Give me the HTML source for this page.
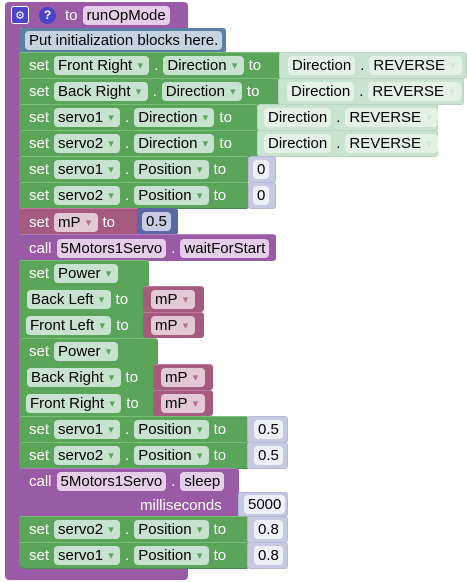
<!DOCTYPE html>
<html><head><meta charset="utf-8"><style>
body{margin:0;width:467px;height:582px;background:#fff;position:relative;overflow:hidden;font-family:"Liberation Sans",sans-serif;font-size:15px;color:#fff}
.b{position:absolute;box-sizing:border-box;display:flex;align-items:center;padding-left:10px;white-space:nowrap;border-radius:3px}
.g{background:#5ba55b;border-top:1px solid #7cbf7c;border-bottom:1px solid #4a8a4a}
.p{background:#995ba5;border-top:1px solid #b07bbb}
.r{background:#a55b80;border-top:1px solid #bf7b9c}
.bl{background:#5b67a5}
.sh{background:#c9e3d1;color:#000;border:1px solid #b8d6c2}
.nm{background:#c6c9e2;color:#000;border:1px solid #b4b8d6}
.f{display:inline-flex;align-items:center;height:19px;padding:0 4px;border-radius:4px;background:#c7e2cf;color:#000;margin-right:5px}
.p .f{background:#e6cde9}
.r .f{background:#e3c9d6}
.nm .f{background:#eef0f7}
.sh .f{background:#e3f1e7}
.a{font-size:11px;color:#5ba55b;margin-left:3px;width:10px;display:inline-flex;justify-content:center}
.r .a{color:#b46f92}
.sh .a{color:#cfe6d6}
.t{margin-right:5px}
</style></head><body>
<div style="position:absolute;left:5px;top:2px;width:183px;height:26px;background:#995ba5;border-radius:4px 4px 0 0"></div>
<div style="position:absolute;left:5px;top:27px;width:15px;height:545px;background:#995ba5"></div>
<div style="position:absolute;left:5px;top:566px;width:183px;height:14px;background:#995ba5;border-radius:0 0 4px 4px"></div>
<div class="b" style="left:5px;top:2px;height:26px;padding-left:6px">
<span style="display:inline-flex;width:16px;height:16px;background:#4b44c9;border:1px solid #fff;border-radius:3px;align-items:center;justify-content:center;font-size:11px;margin-right:10px">⚙</span>
<span style="display:inline-flex;width:17px;height:17px;background:#4b44c9;border-radius:50%;align-items:center;justify-content:center;font-size:12px;font-weight:bold;margin-right:9px">?</span>
<span class="t">to</span><span class="f" style="background:#e6cde9">runOpMode</span></div>
<div class="b" style="left:19px;top:28px;width:207px;height:25px;background:#5b80a5;padding-left:6px"><span class="f" style="background:#c6d4e2">Put initialization blocks here.</span></div>

<div class="b g" style="left:19px;top:52px;width:262px;height:27px"><span class="t">set</span><span class="f">Front Right<span class="a">▾</span></span><span class="t">.</span><span class="f">Direction<span class="a">▾</span></span><span>to</span></div>
<div class="b sh" style="left:279px;top:52px;width:188px;height:27px;padding-left:8px"><span class="f">Direction</span><span class="t">.</span><span class="f">REVERSE<span class="a">▾</span></span></div>
<div class="b g" style="left:19px;top:78px;width:262px;height:27px"><span class="t">set</span><span class="f">Back Right<span class="a">▾</span></span><span class="t">.</span><span class="f">Direction<span class="a">▾</span></span><span>to</span></div>
<div class="b sh" style="left:278px;top:78px;width:186px;height:27px;padding-left:8px"><span class="f">Direction</span><span class="t">.</span><span class="f">REVERSE<span class="a">▾</span></span></div>
<div class="b g" style="left:19px;top:104px;width:240px;height:27px"><span class="t">set</span><span class="f">servo1<span class="a">▾</span></span><span class="t">.</span><span class="f">Direction<span class="a">▾</span></span><span>to</span></div>
<div class="b sh" style="left:257px;top:104px;width:181px;height:27px;padding-left:6px"><span class="f">Direction</span><span class="t">.</span><span class="f">REVERSE<span class="a">▾</span></span></div>
<div class="b g" style="left:19px;top:130px;width:240px;height:27px"><span class="t">set</span><span class="f">servo2<span class="a">▾</span></span><span class="t">.</span><span class="f">Direction<span class="a">▾</span></span><span>to</span></div>
<div class="b sh" style="left:257px;top:130px;width:181px;height:27px;padding-left:6px"><span class="f">Direction</span><span class="t">.</span><span class="f">REVERSE<span class="a">▾</span></span></div>
<div class="b g" style="left:19px;top:156px;width:230px;height:27px"><span class="t">set</span><span class="f">servo1<span class="a">▾</span></span><span class="t">.</span><span class="f">Position<span class="a">▾</span></span><span>to</span></div>
<div class="b nm" style="left:248px;top:156px;width:28px;height:27px;padding-left:4px"><span class="f">0</span></div>
<div class="b g" style="left:19px;top:182px;width:230px;height:27px"><span class="t">set</span><span class="f">servo2<span class="a">▾</span></span><span class="t">.</span><span class="f">Position<span class="a">▾</span></span><span>to</span></div>
<div class="b nm" style="left:248px;top:182px;width:28px;height:27px;padding-left:4px"><span class="f">0</span></div>
<div class="b r" style="left:19px;top:208px;width:120px;height:27px"><span class="t">set</span><span class="f">mP<span class="a">▾</span></span><span>to</span></div>
<div class="b bl" style="left:137px;top:208px;width:41px;height:27px;padding-left:5px"><span class="f" style="background:#c8cce2">0.5</span></div>
<div class="b p" style="left:19px;top:234px;width:257px;height:27px"><span class="t">call</span><span class="f">5Motors1Servo</span><span class="t">.</span><span class="f">waitForStart</span></div>

<div class="b g" style="left:19px;top:260px;width:130px;height:79px;align-items:flex-start;flex-direction:column;padding-left:0">
<div style="height:26px;display:flex;align-items:center;padding-left:10px"><span class="t">set</span><span class="f">Power<span class="a">▾</span></span></div>
<div style="height:26px;display:flex;align-items:center;padding-left:8px"><span class="f">Back Left<span class="a">▾</span></span><span>to</span></div>
<div style="height:26px;display:flex;align-items:center;padding-left:7px"><span class="f">Front Left<span class="a">▾</span></span><span>to</span></div></div>
<div class="b r" style="left:143px;top:286px;width:61px;height:26px;padding-left:8px"><span class="f">mP<span class="a">▾</span></span></div>
<div class="b r" style="left:143px;top:312px;width:61px;height:26px;padding-left:8px"><span class="f">mP<span class="a">▾</span></span></div>

<div class="b g" style="left:19px;top:338px;width:139px;height:79px;align-items:flex-start;flex-direction:column;padding-left:0">
<div style="height:26px;display:flex;align-items:center;padding-left:10px"><span class="t">set</span><span class="f">Power<span class="a">▾</span></span></div>
<div style="height:26px;display:flex;align-items:center;padding-left:8px"><span class="f">Back Right<span class="a">▾</span></span><span>to</span></div>
<div style="height:26px;display:flex;align-items:center;padding-left:7px"><span class="f">Front Right<span class="a">▾</span></span><span>to</span></div></div>
<div class="b r" style="left:153px;top:364px;width:60px;height:26px;padding-left:8px"><span class="f">mP<span class="a">▾</span></span></div>
<div class="b r" style="left:153px;top:390px;width:60px;height:26px;padding-left:8px"><span class="f">mP<span class="a">▾</span></span></div>

<div class="b g" style="left:19px;top:416px;width:230px;height:27px"><span class="t">set</span><span class="f">servo1<span class="a">▾</span></span><span class="t">.</span><span class="f">Position<span class="a">▾</span></span><span>to</span></div>
<div class="b nm" style="left:247px;top:416px;width:41px;height:27px;padding-left:6px"><span class="f">0.5</span></div>
<div class="b g" style="left:19px;top:442px;width:230px;height:27px"><span class="t">set</span><span class="f">servo2<span class="a">▾</span></span><span class="t">.</span><span class="f">Position<span class="a">▾</span></span><span>to</span></div>
<div class="b nm" style="left:247px;top:442px;width:41px;height:27px;padding-left:6px"><span class="f">0.5</span></div>

<div class="b p" style="left:19px;top:468px;width:220px;height:49px;align-items:flex-start;flex-direction:column;padding-left:0">
<div style="height:24px;display:flex;align-items:center;padding-left:10px"><span class="t">call</span><span class="f">5Motors1Servo</span><span class="t">.</span><span class="f">sleep</span></div>
<div style="height:24px;display:flex;align-items:center;padding-left:121px">milliseconds</div></div>
<div class="b nm" style="left:238px;top:492px;width:50px;height:25px;padding-left:5px"><span class="f">5000</span></div>

<div class="b g" style="left:19px;top:516px;width:230px;height:27px"><span class="t">set</span><span class="f">servo2<span class="a">▾</span></span><span class="t">.</span><span class="f">Position<span class="a">▾</span></span><span>to</span></div>
<div class="b nm" style="left:247px;top:516px;width:41px;height:27px;padding-left:6px"><span class="f">0.8</span></div>
<div class="b g" style="left:19px;top:542px;width:230px;height:27px;border-radius:0 3px 3px 6px"><span class="t">set</span><span class="f">servo1<span class="a">▾</span></span><span class="t">.</span><span class="f">Position<span class="a">▾</span></span><span>to</span></div>
<div class="b nm" style="left:247px;top:542px;width:41px;height:27px;padding-left:6px"><span class="f">0.8</span></div>
</body></html>
